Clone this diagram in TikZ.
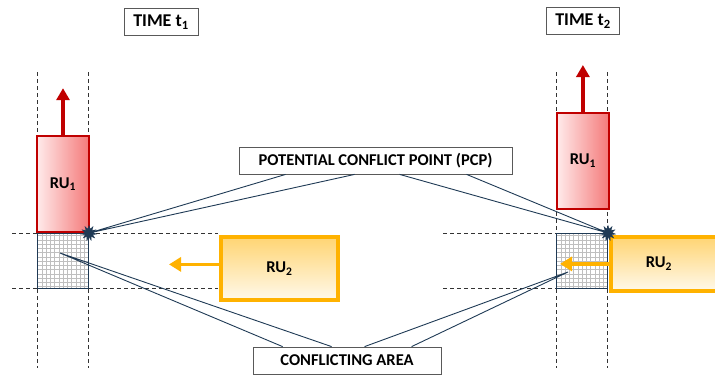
\documentclass[tikz,border=0pt]{standalone}
\usepackage{fontspec}
\setmainfont{Carlito}
\usetikzlibrary{positioning,shapes.geometric,arrows.meta}
\definecolor{rured}{HTML}{C00000}
\definecolor{rupink}{HTML}{F47A7A}
\definecolor{ruorange}{HTML}{FFB200}
\definecolor{navy}{HTML}{1F3A55}

\begin{document}
\begin{tikzpicture}[x=1pt,y=-1pt,font=\bfseries\fontsize{16.5}{18}\selectfont]
 \tikzstyle{labelbox}=[draw=black!65,fill=white,line width=0.8pt,inner sep=0pt,minimum height=27pt]
 \tikzstyle{redbox}=[draw=rured,line width=1.8pt,left color=red!8,right color=rupink,minimum width=52pt,minimum height=96pt,inner sep=0pt]
 \tikzstyle{orangebox}=[draw=ruorange,line width=3.8pt,top color=ruorange!55,bottom color=ruorange!8,inner sep=0pt]
 \tikzstyle{gridbox}=[draw=navy,line width=1pt,fill=white,minimum width=51pt,minimum height=55pt,inner sep=0pt,
   path picture={\draw[black!25,line width=0.5pt,step=4.25pt] (path picture bounding box.south west) grid (path picture bounding box.north east);}]
 \tikzstyle{guide}=[black!80,line width=0.8pt,dash pattern=on 4pt off 3pt]
 \tikzstyle{pcpstar}=[star,star points=11,star point ratio=1.9,fill=navy,draw=navy,minimum size=15pt,inner sep=0pt]
 \tikzstyle{callout}=[navy,line width=0.9pt,line join=miter]

\useasboundingbox (0,0) rectangle (715,378);

\draw[guide] (37,72) -- (37,368);
\draw[guide] (88,72) -- (88,368);
\draw[guide] (556,72) -- (556,368);
\draw[guide] (607,72) -- (607,368);
\draw[guide] (12,233) -- (218,233);
\draw[guide] (12,288) -- (218,288);
\draw[guide] (443,233) -- (556,233);
\draw[guide] (443,288) -- (556,288);

\node[labelbox,minimum width=74pt,font=\bfseries\fontsize{18}{20}\selectfont] (t1) at (161,22) {TIME t\textsubscript{1}};
\node[labelbox,minimum width=73pt,font=\bfseries\fontsize{18}{20}\selectfont] (t2) at (583,21) {TIME t\textsubscript{2}};

\node[gridbox,anchor=north west] (ca1) at (37,233) {};
\node[redbox] (ru1a) [above=0pt of ca1] {RU\textsubscript{1}};
\node[orangebox,minimum width=117pt,minimum height=63pt,anchor=north west] (ru2a) at (219,235) {RU\textsubscript{2}};

\node[gridbox,anchor=north west] (ca2) at (556,233) {};
\node[redbox,anchor=north west] (ru1b) at (556,112) {RU\textsubscript{1}};
\node[orangebox,minimum width=130pt,minimum height=54pt,anchor=north west] (ru2b) at (609,235) {\hspace*{-34pt}RU\textsubscript{2}};

\draw[rured,line width=3.5pt,-{Triangle[width=13pt,length=12pt]}] (ru1a.north) -- ++(0,-47);
\draw[rured,line width=3.5pt,-{Triangle[width=13pt,length=12pt]}] (ru1b.north) -- ++(0,-47);
\draw[ruorange,line width=3.8pt,-{Triangle[width=14pt,length=12pt]}] ([yshift=4pt]ru2a.west) -- ++(-50,0);
\draw[ruorange,line width=3.8pt,-{Triangle[width=14pt,length=12pt]}] (ru2b.west) -- ++(-49,0);

\node[pcpstar] (s1) at (ca1.north east) {};
\node[pcpstar] (s2) at (ca2.north east) {};
\coordinate (a1) at (60,253);
\coordinate (a2) at (568,272);

\node[labelbox,minimum width=273pt] (pcp) at (375.5,160.5) {POTENTIAL CONFLICT POINT (PCP)};
\node[labelbox,minimum width=188pt] (area) at (347,360.5) {CONFLICTING AREA};

\draw[callout] ([xshift=47pt]pcp.south west) -- (s1.center) -- ([xshift=116pt]pcp.south west);
\draw[callout] ([xshift=161pt]pcp.south west) -- (s2.center) -- ([xshift=228pt]pcp.south west);
\draw[callout] ([xshift=30pt]area.north west) -- (a1) -- ([xshift=79pt]area.north west);
\draw[callout] ([xshift=112pt]area.north west) -- (a2) -- ([xshift=159pt]area.north west);

\end{tikzpicture}
\end{document}
